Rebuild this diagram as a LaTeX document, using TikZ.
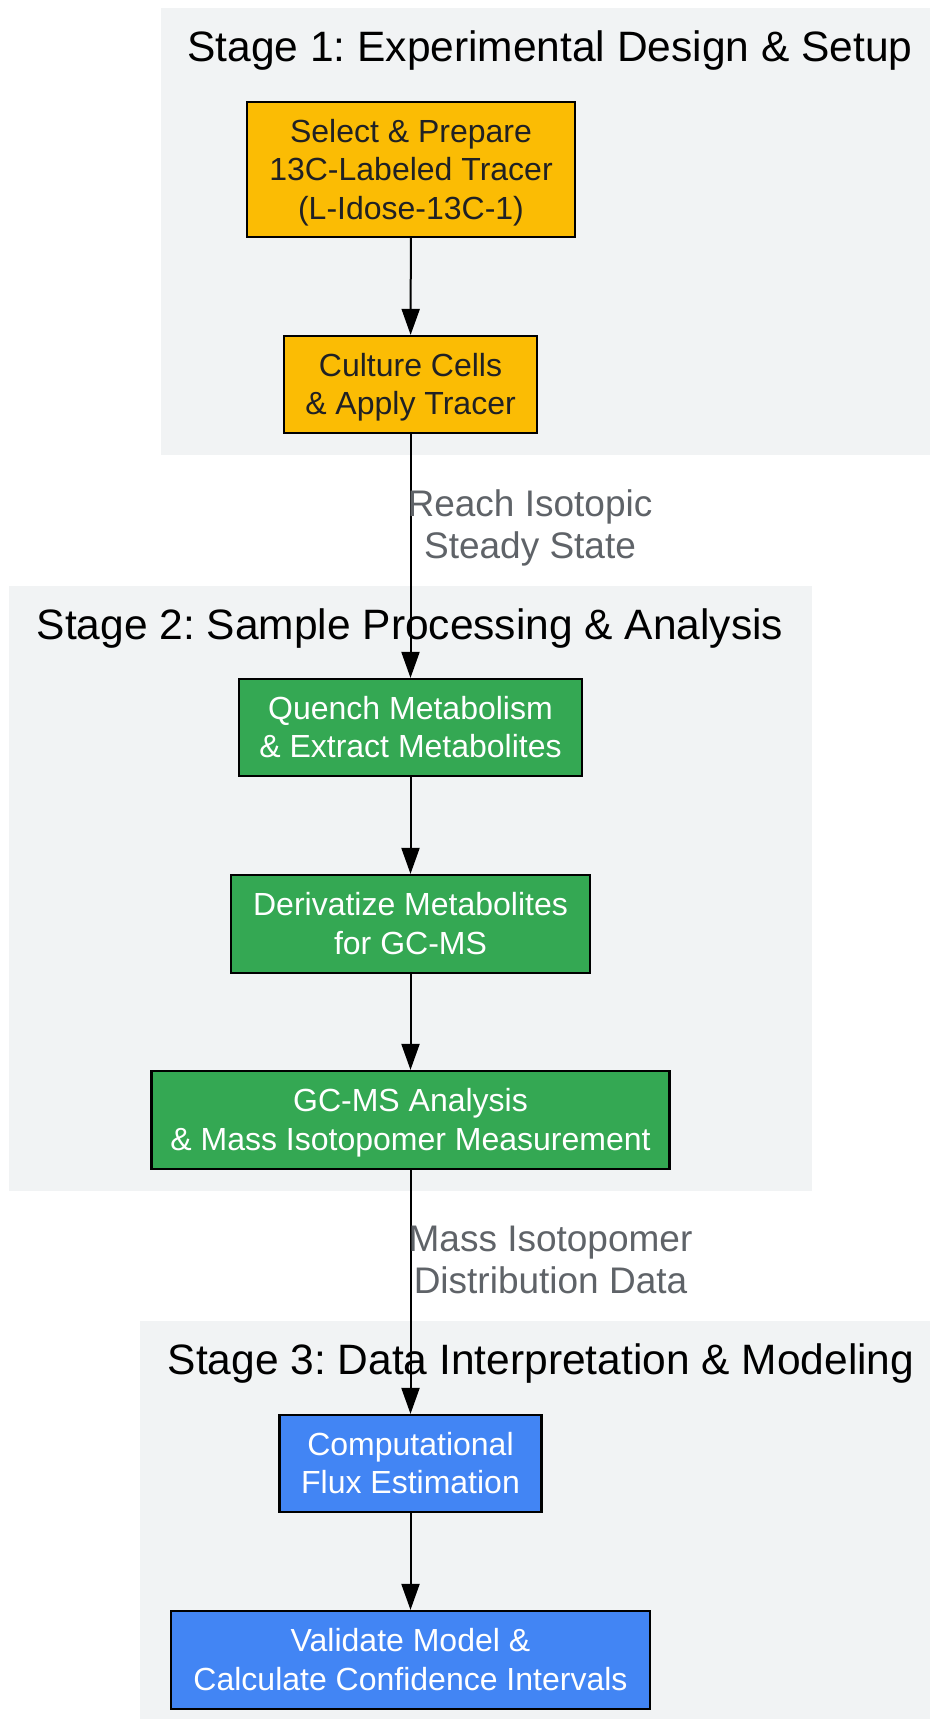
\documentclass[tikz,border=0pt]{standalone}
\usepackage{fontspec}
\setmainfont{Liberation Sans}
\usetikzlibrary{arrows.meta}
\frenchspacing
\definecolor{clusterbg}{HTML}{F1F3F4}
\definecolor{yel}{HTML}{FBBC04}
\definecolor{grn}{HTML}{34A853}
\definecolor{blu}{HTML}{4285F4}
\definecolor{dark}{HTML}{202124}
\definecolor{lbl}{HTML}{5F6368}
\newcommand{\myns}{\rule[-8.1pt]{0pt}{38.4pt}}
\newcommand{\myes}{\rule[-8.15pt]{0pt}{42pt}}
\newcommand{\myts}{\rule[-9pt]{0pt}{47.5pt}}
\tikzset{
  stepbox/.style={draw=black, line width=2.2pt, inner sep=0pt, align=center,
    font=\fontsize{32}{38.4}\selectfont},
  ybox/.style={stepbox, fill=yel, text=dark},
  gbox/.style={stepbox, fill=grn, text=white},
  bbox/.style={stepbox, fill=blu, text=white},
  ctitle/.style={inner sep=0pt, font=\fontsize{42.5}{50}\selectfont, text=black},
  elabel/.style={inner sep=0pt, align=center, text=lbl, font=\fontsize{37}{42}\selectfont},
  conn/.style={line width=2pt, -{Triangle[length=26pt,width=18pt]}},
}
\begin{document}
\begin{tikzpicture}[x=1pt,y=-1pt]
\useasboundingbox (0,0) rectangle (930,1719);
% clusters
\fill[clusterbg] (161,8) rectangle (930,455);
\fill[clusterbg] (9,586) rectangle (812,1191);
\fill[clusterbg] (140,1321) rectangle (930,1719);
\node[ctitle] (t1) at (550,47) {\myts Stage 1: Experimental Design \& Setup};
\node[ctitle] (t2) at (410,625) {\myts Stage 2: Sample Processing \& Analysis};
\node[ctitle] (t3) at (541,1360) {\myts Stage 3: Data Interpretation \& Modeling};
% nodes
\node[ybox, minimum width=328pt, minimum height=135pt] (n1) at (411,169.5) {\myns Select \& Prepare\\\myns 13C-Labeled Tracer\\\myns (L-Idose-13C-1)};
\node[ybox, minimum width=253pt, minimum height=97pt] (n2) at (410.5,384.5) {\myns Culture Cells\\\myns \& Apply Tracer};
\node[gbox, minimum width=343pt, minimum height=97pt] (n3) at (410.5,727.5) {\myns Quench Metabolism\\\myns \& Extract Metabolites};
\node[gbox, minimum width=359pt, minimum height=98pt] (n4) at (410.5,924) {\myns Derivatize Metabolites\\\myns for GC-MS};
\node[gbox, minimum width=518pt, minimum height=98pt] (n5) at (410.5,1120) {\myns GC-MS Analysis\\\myns \& Mass Isotopomer Measurement};
\node[bbox, minimum width=262pt, minimum height=97pt] (n6) at (410.5,1463.5) {\myns Computational\\\myns Flux Estimation};
\node[bbox, minimum width=479pt, minimum height=98pt] (n7) at (410.5,1660) {\myns Validate Model \&\\\myns Calculate Confidence Intervals};
% edges
\draw[conn] (n1) -- (n2);
\draw[conn] (n2) -- (n3);
\draw[conn] (n3) -- (n4);
\draw[conn] (n4) -- (n5);
\draw[conn] (n5) -- (n6);
\draw[conn] (n6) -- (n7);
\node[elabel] (l1) at (530,525) {\myes Reach Isotopic\\\myes Steady State};
\node[elabel] (l2) at (550.5,1260) {\myes Mass Isotopomer\\\myes Distribution Data};
\end{tikzpicture}
\end{document}
